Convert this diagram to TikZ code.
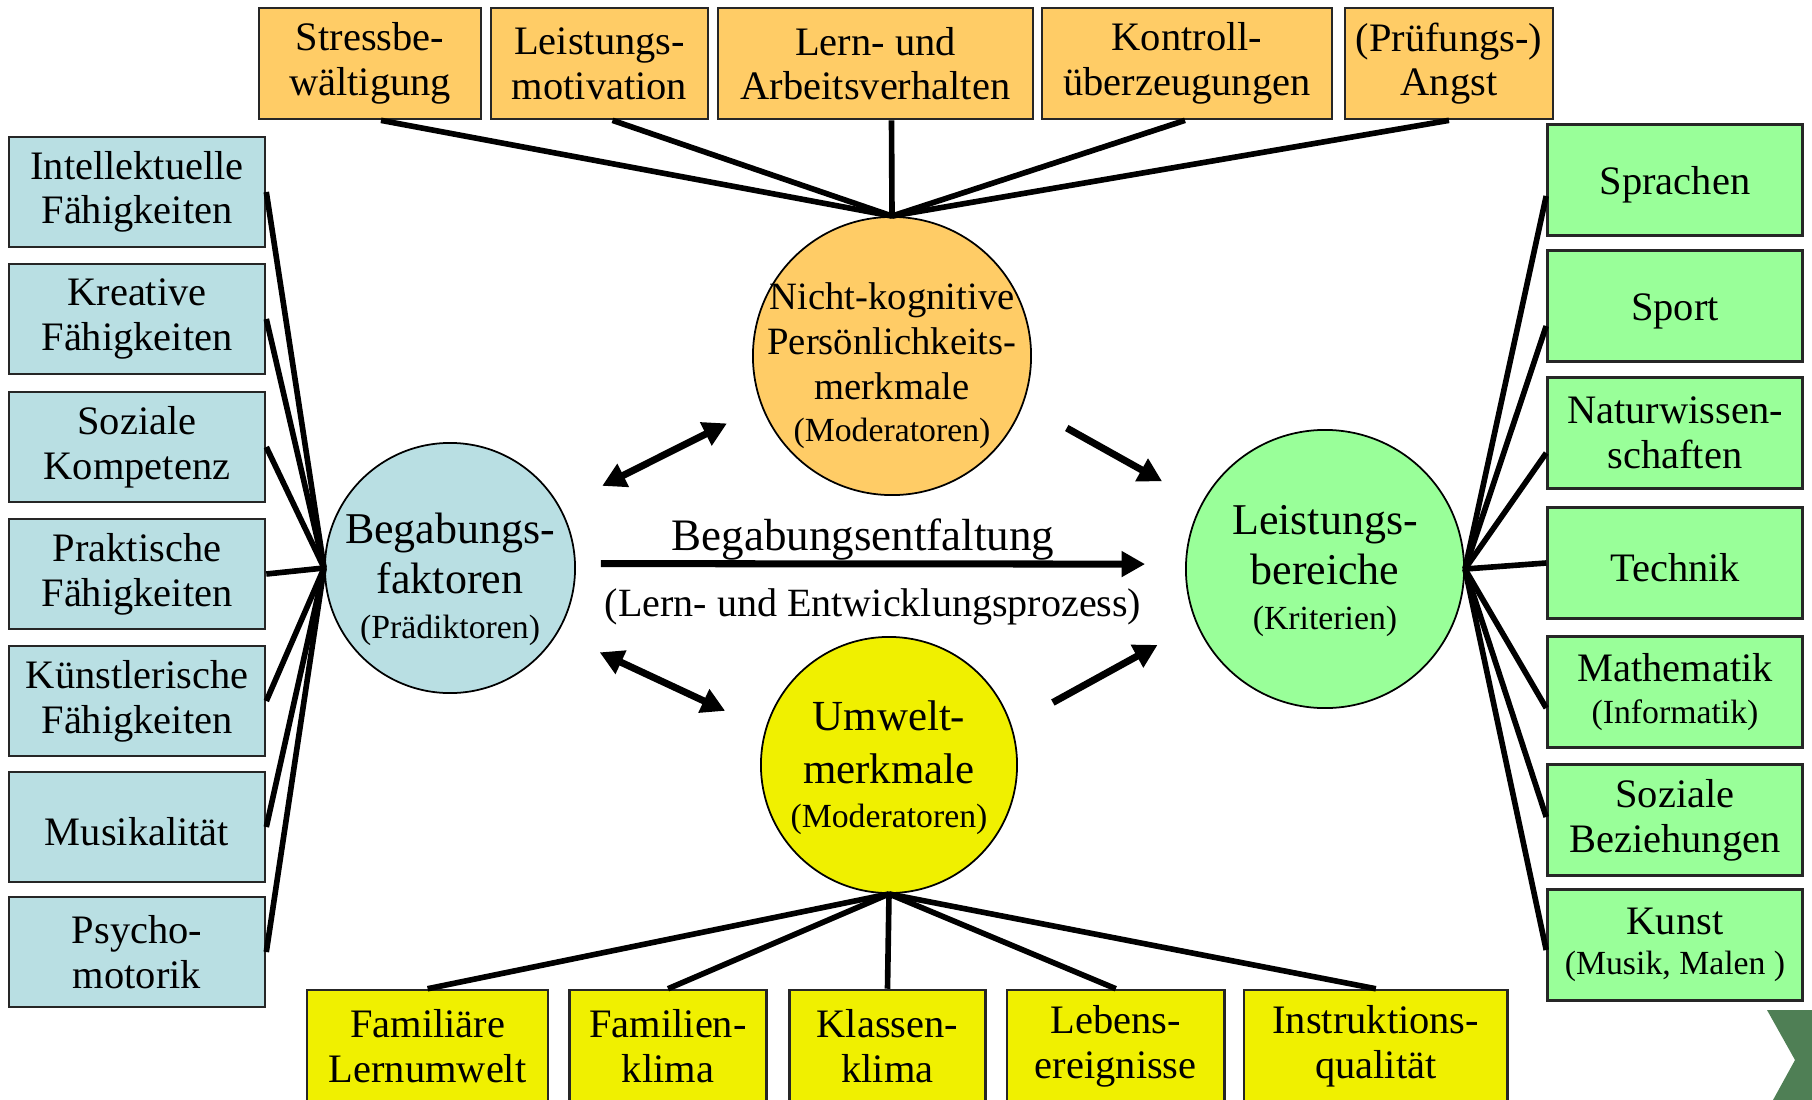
\documentclass[tikz,border=0pt]{standalone}
\usepackage{fontspec}
\setmainfont{Liberation Serif}
\usetikzlibrary{arrows.meta}

\definecolor{apricot}{HTML}{FFCC66}
\definecolor{skyblue}{HTML}{B9DFE3}
\definecolor{leafgreen}{HTML}{99FF99}
\definecolor{lemon}{HTML}{F0F000}
\definecolor{pine}{HTML}{4F7F55}

\newcommand\subline[1]{{\fontsize{9.6}{11}\selectfont #1}}

\tikzset{
    tile/.style={draw=black!85, line width=0.7pt, align=center, inner sep=0pt,
        font=\fontsize{11.5}{12.7}\selectfont,
        execute at begin node={\rule{0pt}{10.6pt}}},
    gifttile/.style={tile, fill=skyblue, minimum width=2.56cm, minimum height=1.1cm},
    fieldtile/.style={tile, fill=leafgreen, minimum width=2.55cm, minimum height=1.11cm},
    traittile/.style={tile, fill=apricot, minimum height=1.11cm},
    milieutile/.style={tile, fill=lemon, minimum height=1.12cm},
    hub/.style={circle, draw, line width=0.5pt, inner sep=0pt},
    hubtext/.style={align=center, inner sep=0pt, font=\fontsize{12.5}{14.2}\selectfont},
    spoke/.style={line width=1.6pt},
    flow/.style={line width=2pt, -{Triangle[length=6.7pt,width=7pt]}},
    twoway/.style={line width=2pt, {Triangle[length=6.7pt,width=7pt]}-{Triangle[length=6.7pt,width=7pt]}}
}

\begin{document}
\begin{tikzpicture}[x=0.01cm, y=-0.01cm]
    \useasboundingbox (0,0) rectangle (1812,1100);

    \node[hub, fill=skyblue, minimum size=2.5cm] (beg) at (450,568) {};
    \node[hub, fill=apricot, minimum size=2.78cm] (nicht) at (892,356) {};
    \node[hub, fill=lemon, minimum size=2.56cm] (umw) at (889,765) {};
    \node[hub, fill=leafgreen, minimum size=2.78cm] (leist) at (1325,569) {};

    \node[hubtext] (begtext) at (450,579) {Begabungs-\\faktoren\\[-1.4pt]\subline{(Prädiktoren)}};
    \node[hubtext, font=\fontsize{11}{12.8}\selectfont] (nichttext) at (892,366)
        {Nicht-kognitive\\Persönlichkeits-\\merkmale\\[-0.8pt]\subline{(Moderatoren)}};
    \node[hubtext, font=\fontsize{12.2}{15}\selectfont] (umwtext) at (889,768)
        {Umwelt-\\merkmale\\[-2.5pt]\subline{(Moderatoren)}};
    \node[hubtext] (leisttext) at (1325,571) {Leistungs-\\bereiche\\[-1.4pt]\subline{(Kriterien)}};

    \foreach \x/\w/\t [count=\i] in {
        370/2.22/Stressbe-\\wältigung,
        599.5/2.17/Leistungs-\\motivation,
        875.5/3.15/Lern- und\\Arbeitsverhalten,
        1187/2.90/Kontroll-\\überzeugungen,
        1449/2.08/(Prüfungs-)\\Angst}{
      \node[traittile, minimum width=\w cm] (trait\i) at (\x,63.6) {\t};
    }

    \foreach \y/\t [count=\i] in {
        192/Intellektuelle\\Fähigkeiten,
        319/Kreative\\Fähigkeiten,
        447/Soziale\\Kompetenz,
        574/Praktische\\Fähigkeiten,
        701/Künstlerische\\Fähigkeiten,
        827/Musikalität,
        952/Psycho-\\motorik}{
      \node[gifttile] (gift\i) at (137,\y) {\t};
    }

    \foreach \y/\t [count=\i] in {
        180/Sprachen,
        306/Sport,
        433/Naturwissen-\\schaften,
        563/Technik,
        692/Mathematik\\[-0.8pt]\subline{(Informatik)},
        820/Soziale\\Beziehungen,
        945/Kunst\\[-1.2pt]\subline{(Musik, Malen )}}{
      \node[fieldtile] (field\i) at (1675,\y) {\t};
    }

    \foreach \x/\w/\t [count=\i] in {
        427.6/2.41/Familiäre\\Lernumwelt,
        668/1.97/Familien-\\klima,
        887.5/1.96/Klassen-\\klima,
        1115.8/2.17/Lebens-\\ereignisse,
        1375.8/2.63/Instruktions-\\qualität}{
      \node[milieutile, minimum width=\w cm] (milieu\i) at (\x,1046) {\t};
    }

    \foreach \i/\dx in {1/11,2/13,3/16,4/-2,5/0}
      \draw[spoke] ([xshift=\dx*0.01cm]trait\i.south) -- (nicht.north);
    \foreach \i in {1,...,7}
      \draw[spoke] (gift\i.east) -- (beg.west);
    \foreach \i/\dy in {1/-16,2/-20,3/-20,4/0,5/-16,6/3,7/-5}
      \draw[spoke] ([yshift=\dy*0.01cm]field\i.west) -- (leist.east);
    \foreach \i in {1,...,5}
      \draw[spoke] (milieu\i.north) -- (umw.south);

    \draw[twoway, shorten <=0.47cm, shorten >=0.385cm] (beg.29.4) -- (nicht.201.3);
    \draw[twoway, shorten <=0.46cm, shorten >=0.44cm] (beg.329) -- (umw.164.2);
    \draw[flow, shorten <=0.495cm, shorten >=0.45cm] (nicht.340.4) -- (leist.152);
    \draw[flow, shorten <=0.47cm, shorten >=0.44cm] (umw.18.6) -- (leist.203.7);
    \draw[flow, shorten <=0.25cm, shorten >=0.4cm] (beg.2) -- (leist.178);

    \node[font=\fontsize{12.8}{14}\selectfont] (unfold) at (863,540) {Begabungsentfaltung};
    \node[font=\fontsize{11.4}{14}\selectfont] (process) at (873,607) {(Lern- und Entwicklungsprozess)};

    \fill[pine] (1767,1010) -- (1812,1010) -- (1812,1100) -- (1773,1100) -- (1795,1060) -- cycle;
\end{tikzpicture}
\end{document}
